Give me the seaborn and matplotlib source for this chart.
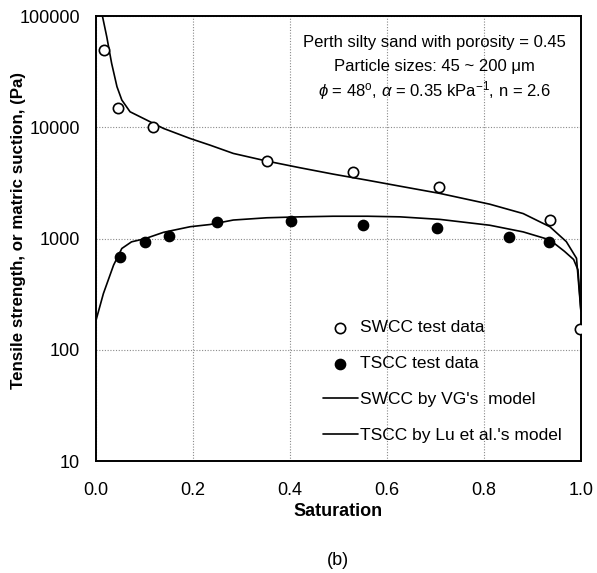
import matplotlib
matplotlib.use("Agg")
import matplotlib.pyplot as plt
import seaborn as sns
import pandas as pd
from matplotlib.ticker import MultipleLocator, LogLocator, NullFormatter

# ---- data ----
swcc_S = [0.0165, 0.045, 0.117, 0.352, 0.529, 0.708, 0.936, 0.998]
swcc_P = [50000, 14800, 10000, 4980, 4000, 2930, 1480, 153]

tscc_S = [0.049, 0.101, 0.151, 0.25, 0.403, 0.551, 0.704, 0.852, 0.935]
tscc_P = [680, 925, 1060, 1420, 1450, 1320, 1240, 1040, 930]

vg_S = [0.013, 0.022, 0.032, 0.043, 0.053, 0.070, 0.098, 0.139, 0.194, 0.235,
        0.283, 0.352, 0.420, 0.489, 0.558, 0.627, 0.709, 0.812, 0.881, 0.936,
        0.970, 0.991, 1.0, 1.0]
vg_P = [100000, 65000, 37600, 23200, 17600, 13800, 12000, 9780, 7940, 6920,
        5830, 4980, 4340, 3800, 3360, 2960, 2550, 2040, 1680, 1280,
        940, 666, 440, 10]

lu_S = [0.0, 0.015, 0.036, 0.053, 0.073, 0.101, 0.139, 0.194, 0.235, 0.283,
        0.352, 0.420, 0.489, 0.560, 0.627, 0.709, 0.812, 0.881, 0.936, 0.966,
        0.985, 0.994, 1.0, 1.0]
lu_P = [186, 321, 578, 816, 936, 1000, 1140, 1280, 1340, 1470,
        1540, 1570, 1590, 1590, 1570, 1490, 1320, 1150, 975, 770,
        650, 524, 440, 10]

x_ticks = [0.0, 0.2, 0.4, 0.6, 0.8, 1.0]
x_tick_labels = ["0.0", "0.2", "0.4", "0.6", "0.8", "1.0"]
y_ticks = [10, 100, 1000, 10000, 100000]
y_tick_labels = ["10", "100", "1000", "10000", "100000"]

legend_labels = ["SWCC test data", "TSCC test data", "SWCC by VG's  model",
                 "TSCC by Lu et al.'s model"]
annotation_lines = ["Perth silty sand with porosity = 0.45",
                    "Particle sizes: 45 ~ 200 \u03bcm",
                    r"$\phi$ = 48$^{\mathrm{o}}$, $\alpha$ = 0.35 kPa$^{\mathrm{-1}}$, n = 2.6"]

swcc_df = pd.DataFrame({"S": swcc_S, "P": swcc_P})
tscc_df = pd.DataFrame({"S": tscc_S, "P": tscc_P})
vg_df = pd.DataFrame({"S": vg_S, "P": vg_P})
lu_df = pd.DataFrame({"S": lu_S, "P": lu_P})

sns.set_theme(style="white")
plt.rcParams["font.family"] = ["Liberation Sans", "DejaVu Sans"]
plt.rcParams["mathtext.fontset"] = "custom"
plt.rcParams["mathtext.rm"] = "Liberation Sans"
plt.rcParams["mathtext.it"] = "Liberation Sans:italic"
for k in ["text.color", "axes.labelcolor", "xtick.color", "ytick.color"]:
    plt.rcParams[k] = "black"

fig = plt.figure(figsize=(5.97, 5.73), dpi=100)
ax = fig.add_axes([0.161, 0.195, 0.812, 0.777])

sns.lineplot(data=vg_df, x="S", y="P", sort=False, color="black", lw=1.2, ax=ax,
             label=legend_labels[2], legend=False)
sns.lineplot(data=lu_df, x="S", y="P", sort=False, color="black", lw=1.2, ax=ax,
             label=legend_labels[3], legend=False)
sns.scatterplot(data=swcc_df, x="S", y="P", marker="o", s=55, facecolor="white",
                edgecolor="black", linewidth=1.2, ax=ax, label=legend_labels[0],
                legend=False, zorder=3)
sns.scatterplot(data=tscc_df, x="S", y="P", marker="o", s=55, color="black",
                edgecolor="black", linewidth=1.0, ax=ax, label=legend_labels[1],
                legend=False, zorder=3)

ax.set_yscale("log")
ax.set_xlim(0, 1.0)
ax.set_ylim(10, 100000)
ax.set_xticks(x_ticks)
ax.set_xticklabels(x_tick_labels)
ax.set_yticks(y_ticks)
ax.set_yticklabels(y_tick_labels)
ax.xaxis.set_minor_locator(MultipleLocator(0.05))
ax.yaxis.set_minor_locator(LogLocator(base=10, subs=range(2, 10)))
ax.yaxis.set_minor_formatter(NullFormatter())

ax.tick_params(axis="both", which="major", direction="in", length=4, width=1,
               labelsize=13, color="black", labelcolor="black")
ax.tick_params(axis="y", which="major", pad=11.5)
ax.tick_params(axis="x", which="major", pad=15)
ax.tick_params(axis="both", which="minor", direction="in", length=2.5, width=0.8,
               color="black")

ax.grid(True, which="major", linestyle=(0, (1, 1.5)), color="#8a8a8a", lw=0.8)
for sp in ax.spines.values():
    sp.set_color("black")
    sp.set_linewidth(1.4)

ax.set_xlabel("Saturation", fontsize=13, fontweight="bold", va="center",
              color="black")
ax.xaxis.set_label_coords(0.499, -0.112)
ax.set_ylabel("Tensile strength, or matric suction, (Pa)", fontsize=12.2,
              fontweight="bold", va="center", color="black")
ax.yaxis.set_label_coords(-0.161, 0.519)

for i, t in enumerate(annotation_lines):
    ax.text(0.697, 0.94 - i * 0.054, t, transform=ax.transAxes, ha="center",
            va="center", fontsize=12, color="black")

h, l = ax.get_legend_handles_labels()
order = [l.index(x) for x in legend_labels]
leg = ax.legend([h[i] for i in order], [l[i] for i in order], loc="center left",
                bbox_to_anchor=(0.468, 0.179), frameon=False, fontsize=12.5,
                handlelength=2.0, handletextpad=0.15, labelspacing=1.2,
                borderaxespad=0, borderpad=0, labelcolor="black")

fig.text(0.566, 0.021, "(b)", ha="center", va="center", fontsize=13,
         color="black")

fig.savefig("out.png", dpi=100, facecolor="white")
